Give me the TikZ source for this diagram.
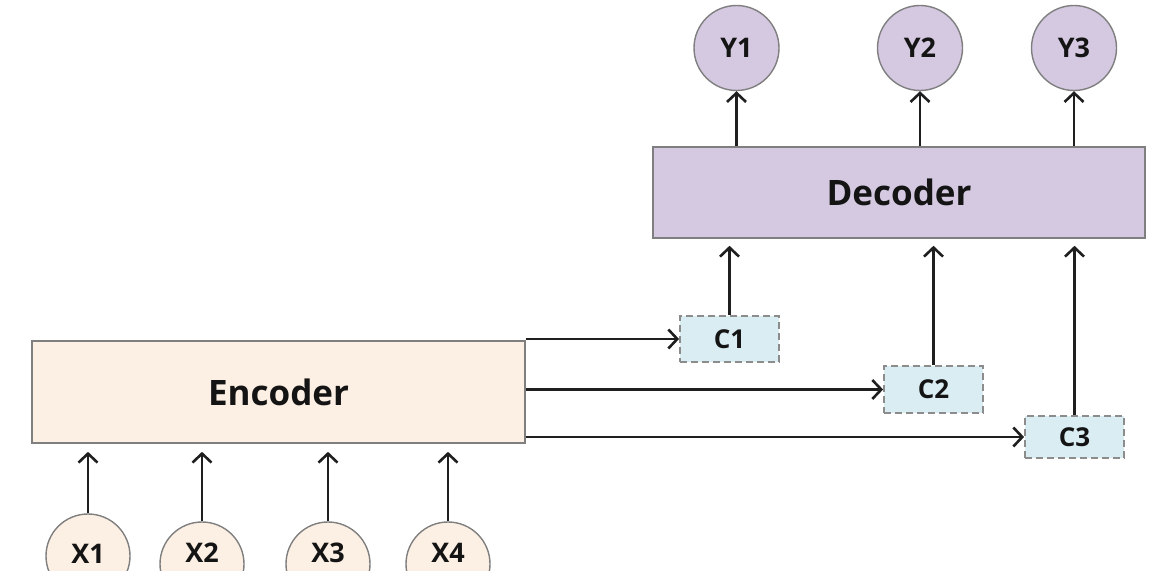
\documentclass[tikz,border=0pt]{standalone}
\usepackage{fontspec}
\setmainfont{Open Sans}
\usetikzlibrary{arrows.meta}
\definecolor{peach}{HTML}{FCEFE3}
\definecolor{lav}{HTML}{D4C9E1}
\definecolor{ltblue}{HTML}{D9EDF3}
\definecolor{bord}{HTML}{7F7F7F}
\definecolor{txt}{HTML}{141414}
\begin{document}
\begin{tikzpicture}[x=1pt,y=1pt,
  bigbox/.style={draw=bord,line width=1.6pt,minimum width=#1,inner sep=0pt,
    font=\fontsize{35}{40}\selectfont\bfseries,text=txt},
  ycirc/.style={circle,draw=bord,line width=1.4pt,fill=lav,minimum size=85pt,inner sep=0pt,
    font=\fontsize{27}{30}\selectfont\bfseries,text=txt},
  xcirc/.style={circle,draw=bord,line width=1.4pt,fill=peach,minimum size=84pt,inner sep=0pt},
  xlab/.style={font=\fontsize{27}{30}\selectfont\bfseries,text=txt,inner sep=0pt},
  cbox/.style={draw=bord!90,dash pattern=on 7pt off 4pt,line width=1.8pt,fill=ltblue,
    minimum width=99pt,inner sep=0pt,font=\fontsize{26}{30}\selectfont\bfseries,text=txt},
  arr/.style={line width=2.8pt,draw=black!88,-{Straight Barb[length=9pt,width=19pt,line width=2.6pt]}}
]
\useasboundingbox (0,0) rectangle (1158,570);
\clip (0,0) rectangle (1158,570);
% boxes
\node[bigbox=493pt,minimum height=102pt,fill=peach] (enc) at (278.5,178) {Encoder};
\node[bigbox=492pt,minimum height=91pt,fill=lav] (dec) at (899,377.5) {Decoder};
% outputs
\node[ycirc] (y1) at (736.5,522) {Y1};
\node[ycirc] (y2) at (920,522) {Y2};
\node[ycirc] (y3) at (1074,522) {Y3};
% inputs
\node[xcirc,label={[xlab,yshift=2pt]center:X1}] (x1) at (88,14) {};
\node[xcirc,label={[xlab,yshift=11pt]center:X2}] (x2) at (202,6) {};
\node[xcirc,label={[xlab,yshift=11pt]center:X3}] (x3) at (328,6) {};
\node[xcirc,label={[xlab,yshift=11pt]center:X4}] (x4) at (448,6) {};
% context vectors
\node[cbox,minimum height=46pt] (c1) at (729.5,231) {C1};
\node[cbox,minimum height=47pt] (c2) at (933.5,180.5) {C2};
\node[cbox,minimum height=42pt] (c3) at (1074.5,133) {C3};
% arrows inputs -> encoder
\foreach \i in {1,2,3,4}{
  \draw[arr,shorten >=8pt] (x\i.north) -- (x\i.north |- enc.south);
}
% encoder -> C
\draw[arr] (enc.east |- c1.west) -- (c1.west);
\draw[arr] (enc.east |- c2.west) -- (c2.west);
\draw[arr] (enc.east |- c3.west) -- (c3.west);
% C -> decoder
\draw[arr,shorten >=7pt] (c1.north) -- (c1.north |- dec.south);
\draw[arr,shorten >=7pt] (c2.north) -- (c2.north |- dec.south);
\draw[arr,shorten >=7pt] (c3.north) -- (c3.north |- dec.south);
% decoder -> outputs
\draw[arr] (y1.south |- dec.north) -- (y1.south);
\draw[arr] (y2.south |- dec.north) -- (y2.south);
\draw[arr] (y3.south |- dec.north) -- (y3.south);
\end{tikzpicture}
\end{document}
